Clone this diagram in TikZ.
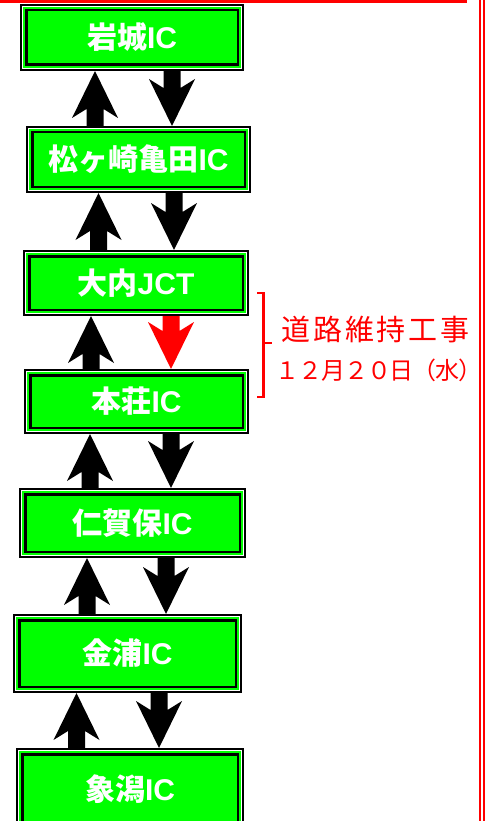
\documentclass[tikz,border=0pt]{standalone}
\usepackage{fontspec}
\setmainfont{Liberation Sans}
\newfontfamily\cjk{Noto Sans CJK JP}
\usetikzlibrary{calc}

\newcommand{\blockarrow}[4]{%
  \fill[#4] let \p1=($(#1)+(#3,0)$), \p0=(#2), \p2=(\x1,\y0),
    \p3=($(\p2)!38pt!(\p1)$), \p4=($(\p2)!47pt!(\p1)$) in
    (\x1-8.5,\y1) -- (\x1-8.5,\y3) -- (\x1-23,\y4) -- (\x2,\y2)
    -- (\x1+23,\y4) -- (\x1+8.5,\y3) -- (\x1+8.5,\y1) -- cycle;}

\begin{document}
\begin{tikzpicture}[x=1pt, y=-1pt,
  icbox/.style={rectangle, inner sep=0pt, outer sep=6.25pt, fill=green,
    draw=black, line width=2.5pt, text=white,
    font=\fontsize{30}{36}\selectfont\bfseries,
    preaction={draw=black, line width=12.5pt},
    preaction={draw=white, line width=8.5pt},
    preaction={draw=green, line width=6.5pt}}]
  \useasboundingbox (0,0) rectangle (487,821);
  \fill[red] (0,0) rectangle (467,3.5);
  \draw[red, line width=2pt] (480.3,0) -- (480.3,821);
  \draw[red, line width=2pt] (484.3,0) -- (484.3,821);

  \node[icbox, minimum width=211.5pt, minimum height=54.5pt] (iwaki) at (132,37.5) {{\cjk 岩城}IC};
  \node[icbox, minimum width=212.5pt, minimum height=54.5pt] (matsugasaki) at (138.5,159.5) {{\cjk 松ヶ崎亀田}IC};
  \node[icbox, minimum width=213.5pt, minimum height=53.5pt] (ouchi) at (136,283) {{\cjk 大内}JCT};
  \node[icbox, minimum width=212.5pt, minimum height=52.5pt] (honjo) at (136.5,401.5) {{\cjk 本荘}IC};
  \node[icbox, minimum width=214.5pt, minimum height=57.5pt] (nikaho) at (132.5,523) {{\cjk 仁賀保}IC};
  \node[icbox, minimum width=216.5pt, minimum height=66.5pt] (konoura) at (127.5,653.5) {{\cjk 金浦}IC};
  \node[icbox, minimum width=215.5pt, minimum height=69.5pt] (kisakata) at (130,789) {{\cjk 象潟}IC};

  \blockarrow{matsugasaki.north}{iwaki.south}{-43.5}{black}
  \blockarrow{iwaki.south}{matsugasaki.north}{40}{black}
  \blockarrow{ouchi.north}{matsugasaki.south}{-37.5}{black}
  \blockarrow{matsugasaki.south}{ouchi.north}{35.5}{black}
  \blockarrow{honjo.north}{ouchi.south}{-45.5}{black}
  \blockarrow{ouchi.south}{honjo.north}{35}{red}
  \blockarrow{nikaho.north}{honjo.south}{-42.5}{black}
  \blockarrow{honjo.south}{nikaho.north}{34.5}{black}
  \blockarrow{konoura.north}{nikaho.south}{-40.5}{black}
  \blockarrow{nikaho.south}{konoura.north}{33.5}{black}
  \blockarrow{kisakata.north}{konoura.south}{-53.5}{black}
  \blockarrow{konoura.south}{kisakata.north}{31.5}{black}

  \node[anchor=west, red, inner sep=0pt,
    font=\cjk\fontsize{29}{34}\selectfont\addfontfeature{LetterSpace=10}] (kouji) at (281,330) {道路維持工事};
  \node[anchor=west, red, inner sep=0pt,
    font=\cjk\fontsize{24}{28}\selectfont\addfontfeature{LetterSpace=-5}] (koujibi) at (275.7,370) {１２月２０日（水）};
  \draw[red, line width=2.2pt] (257,293) -- (263.5,293) -- (263.5,397) -- (257,397);
  \draw[red, line width=2.2pt] (263.5,343) -- (272,343);
\end{tikzpicture}
\end{document}
